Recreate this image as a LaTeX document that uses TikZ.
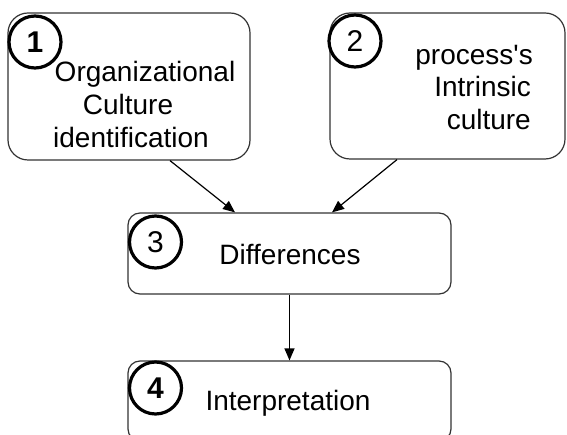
\documentclass[tikz,border=0pt]{standalone}
\usepackage{fontspec}
\setmainfont{Liberation Sans}[Ligatures=TeXOff]
\usetikzlibrary{arrows.meta}
\begin{document}
\begin{tikzpicture}[x=1pt,y=-1pt,
  stagebox/.style={draw=black!80, line width=1.2pt, rounded corners=#1, fill=white, inner sep=0pt},
  badge/.style={circle, draw=black, line width=3.2pt, fill=white, minimum size=52pt, inner sep=0pt,
                font=\fontsize{30}{30}\selectfont},
  lbl/.style={anchor=base, inner sep=0pt, font=\fontsize{28}{33}\selectfont},
  lblr/.style={anchor=base east, inner sep=0pt, font=\fontsize{28}{33}\selectfont},
  arr/.style={draw=black, line width=1.2pt, -{Triangle[length=12pt,width=10pt]}}]
\clip (0,0) rectangle (567,435);
\fill[white] (0,0) rectangle (567,435);

% stage boxes
\node[stagebox=20pt, minimum width=242pt, minimum height=147pt] (b1) at (129,86.5) {};
\node[stagebox=20pt, minimum width=235pt, minimum height=146pt] (b2) at (447.5,86) {};
\node[stagebox=12pt, minimum width=323pt, minimum height=81pt] (b3) at (289.5,253.5) {};
\node[stagebox=12pt, minimum width=323pt, minimum height=80pt] (b4) at (289.5,401) {};

% box texts
\node[lbl] (t1a) at (145,82) {Organizational};
\node[lbl] (t1b) at (128,115) {Culture};
\node[lbl] (t1c) at (131,148) {identification};
\node[lblr] (t2a) at (533,65) {process's};
\node[lblr] (t2b) at (531,97) {Intrinsic};
\node[lblr] (t2c) at (531,130) {culture};
\node[lbl] (t3) at (290,265) {Differences};
\node[lbl] (t4) at (288,410) {Interpretation};

% numbered badges
\node[badge, font=\fontsize{30}{30}\selectfont\bfseries] (n1) at (35,42) {1};
\node[badge] (n2) at (355,41) {2};
\node[badge] (n3) at (155.5,242) {3};
\node[badge, font=\fontsize{30}{30}\selectfont\bfseries] (n4) at (155.5,388) {4};

% flow
\draw[arr] ([xshift=41pt]b1.south) -- ([xshift=-54.5pt]b3.north);
\draw[arr] ([xshift=-50.5pt]b2.south) -- ([xshift=42.5pt]b3.north);
\draw[arr] (b3.south) -- (b4.north);
\end{tikzpicture}
\end{document}
